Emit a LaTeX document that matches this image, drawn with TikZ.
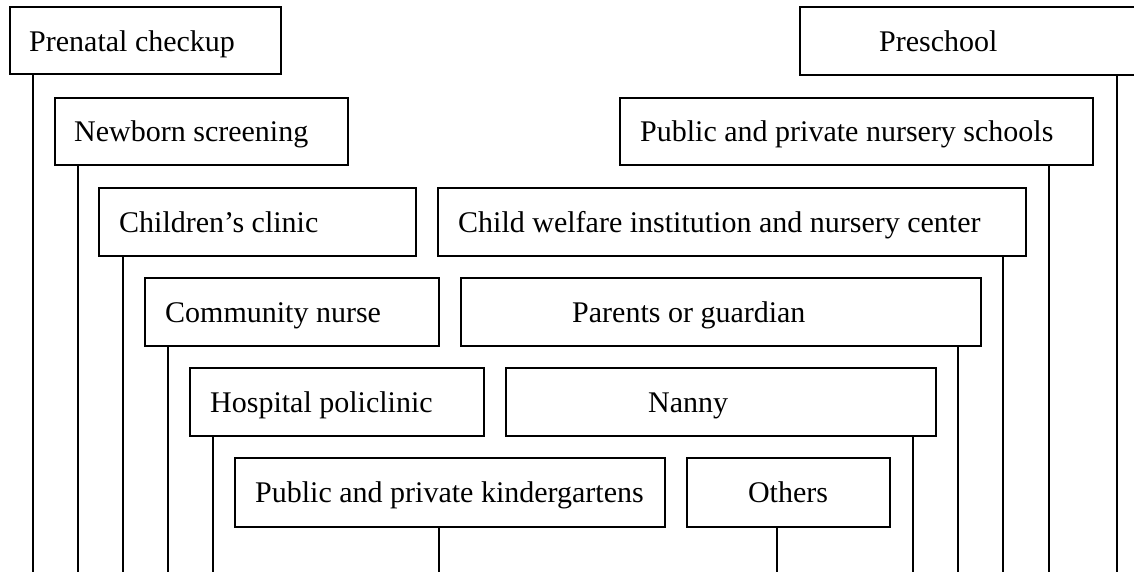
\documentclass[tikz,border=0pt]{standalone}
\usepackage{fontspec}
\setmainfont{Liberation Serif}
\begin{document}
\begin{tikzpicture}[x=1pt,y=-1pt,
  boxnode/.style={draw=black,line width=1.3pt,fill=white,inner sep=0pt,outer sep=0pt},
  lbl/.style={anchor=base west,inner sep=0pt,font=\fontsize{30}{36}\selectfont},
  conn/.style={line width=1.3pt,black}]
\useasboundingbox (0,0) rectangle (1134,571);
% boxes: (left,top) rectangle (right,bottom)
\newcommand{\mybox}[6]{%
  \node[boxnode,anchor=north west,minimum width={#4-#2},minimum height={#5-#3}] (#1) at (#2,#3) {};
  \node[lbl] (t#1) at (#6,#3+44) {\strut};}
\node[boxnode,anchor=north west,minimum width=271,minimum height=67] (b1) at (10,7) {};
\node[boxnode,anchor=north west,minimum width=340,minimum height=68] (b2) at (800,7) {};
\node[boxnode,anchor=north west,minimum width=293,minimum height=67] (b3) at (55,98) {};
\node[boxnode,anchor=north west,minimum width=473,minimum height=67] (b4) at (620,98) {};
\node[boxnode,anchor=north west,minimum width=317,minimum height=68] (b5) at (99,188) {};
\node[boxnode,anchor=north west,minimum width=588,minimum height=68] (b6) at (438,188) {};
\node[boxnode,anchor=north west,minimum width=294,minimum height=68] (b7) at (145,278) {};
\node[boxnode,anchor=north west,minimum width=520,minimum height=68] (b8) at (461,278) {};
\node[boxnode,anchor=north west,minimum width=294,minimum height=68] (b9) at (190,368) {};
\node[boxnode,anchor=north west,minimum width=430,minimum height=68] (b10) at (506,368) {};
\node[boxnode,anchor=north west,minimum width=430,minimum height=69] (b11) at (235,458) {};
\node[boxnode,anchor=north west,minimum width=203,minimum height=69] (b12) at (687,458) {};
% labels
\node[lbl] (t1) at (29,51) {Prenatal checkup};
\node[lbl] (t2) at (879,51) {Preschool};
\node[lbl] (t3) at (74,141) {Newborn screening};
\node[lbl] (t4) at (640,141) {Public and private nursery schools};
\node[lbl] (t5) at (119,232) {Children’s clinic};
\node[lbl] (t6) at (458,232) {Child welfare institution and nursery center};
\node[lbl] (t7) at (165,322) {Community nurse};
\node[lbl] (t8) at (572,322) {Parents or guardian};
\node[lbl] (t9) at (210,412) {Hospital policlinic};
\node[lbl] (t10) at (648,412) {Nanny};
\node[lbl] (t11) at (255,502) {Public and private kindergartens};
\node[lbl,anchor=base] (t12) at (788,502) {Others};
% connector ends
\coordinate (e1) at (33,575);
\coordinate (e2) at (1117,575);
\coordinate (e3) at (78,575);
\coordinate (e4) at (1049,575);
\coordinate (e5) at (123,575);
\coordinate (e6) at (1003,575);
\coordinate (e7) at (168,575);
\coordinate (e8) at (958,575);
\coordinate (e9) at (213,575);
\coordinate (e10) at (913,575);
\coordinate (e11) at (439,575);
\coordinate (e12) at (777,575);
\foreach \i in {1,...,12}{
  \draw[conn] (e\i |- b\i.south) -- (e\i);
}
\end{tikzpicture}
\end{document}
